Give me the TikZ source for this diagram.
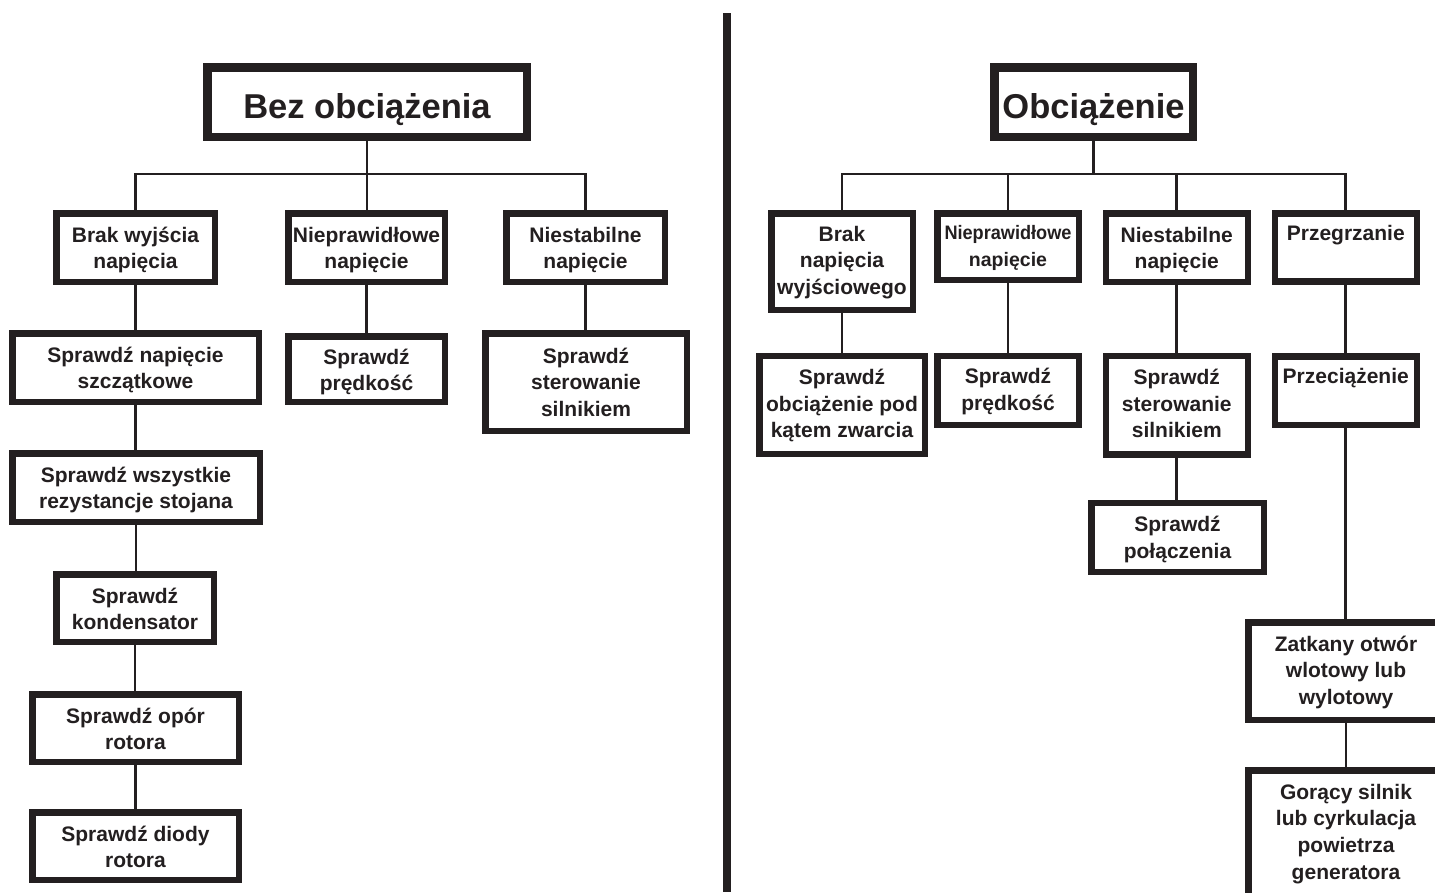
\documentclass[tikz,border=0pt]{standalone}
\usepackage{fontspec}
\setmainfont{Liberation Sans}
\usetikzlibrary{backgrounds}
\definecolor{ink}{HTML}{231F20}
\tikzset{
  bx/.style={draw=ink, line width=6.5pt, inner sep=0pt, outer sep=0pt, fill=white},
  tbx/.style={draw=ink, line width=8.5pt, inner sep=0pt, outer sep=0pt, fill=white},
  tx/.style={anchor=base, inner sep=0pt, outer sep=0pt, text=ink},
  conn/.style={draw=ink, line width=2.8pt},
}
\newcommand\cbox[7]{%
  \node[bx, minimum width={#4-#2-6.5}, minimum height={#5-#3-6.5}] (#1) at ({(#2+#4)/2},{(#3+#5)/2}) {};
  \node[tx] (#1-t) at ({(#2+#4)/2},{#3+#6}) {\parbox[t]{240pt}{\centering\fontsize{21}{26.7}\selectfont\bfseries #7}};
}
\newcommand\tbox[6]{%
  \node[tbx, minimum width={#4-#2-8.5}, minimum height={#5-#3-8.5}] (#1) at ({(#2+#4)/2},{(#3+#5)/2}) {};
  \node[tx] (#1-t) at ({(#2+#4)/2},118) {\fontsize{34.5}{40}\selectfont\bfseries #6};
}
\begin{document}
\begin{tikzpicture}[x=1pt,y=-1pt]
\clip (0,0) rectangle (1435,892);
\coordinate (H) at (0,174);

% ---------- left ----------
\tbox{T1}{203}{63}{531}{141}{Bez obciążenia}
\cbox{L1}{53}{210}{218}{285}{32}{Brak wyjścia\\napięcia}
\cbox{L2}{285}{210}{448}{285}{32}{Nieprawidłowe\\napięcie}
\cbox{L3}{503}{210}{668}{285}{32}{Niestabilne\\napięcie}
\cbox{L1a}{9}{330}{262}{405}{32}{Sprawdź napięcie\\szczątkowe}
\cbox{L1b}{9}{450}{263}{525}{32}{Sprawdź wszystkie\\rezystancje stojana}
\cbox{L1c}{53}{571}{217}{645}{32}{Sprawdź\\kondensator}
\cbox{L1d}{29}{691}{242}{765}{32}{Sprawdź opór\\rotora}
\cbox{L1e}{29}{809}{242}{883}{32}{Sprawdź diody\\rotora}
\cbox{L2a}{285}{333}{448}{405}{31}{Sprawdź\\prędkość}
\cbox{L3a}{482}{330}{690}{434}{33}{Sprawdź\\sterowanie\\silnikiem}

% ---------- right ----------
\tbox{T2}{990}{63}{1197}{141}{Obciążenie}
\cbox{R1}{768}{210}{916}{313}{31}{Brak\\napięcia\\wyjściowego}
\cbox{R2}{934}{210}{1082}{283}{29.5}{\fontsize{19.5}{27}\selectfont\scalebox{0.93}[1]{Nieprawidłowe}\\napięcie}
\cbox{R3}{1102.5}{210}{1251}{285}{32}{Niestabilne\\napięcie}
\cbox{R4}{1271.5}{210}{1420}{284.5}{30}{Przegrzanie}
\cbox{R1a}{756}{352.5}{928}{457}{32}{Sprawdź\\obciążenie pod\\kątem zwarcia}
\cbox{R2a}{934}{352.5}{1082}{428}{31}{Sprawdź\\prędkość}
\cbox{R3a}{1102.5}{352.5}{1251}{457.5}{32}{Sprawdź\\sterowanie\\silnikiem}
\cbox{R3b}{1088}{499.5}{1267}{575}{32}{Sprawdź\\połączenia}
\cbox{R4a}{1271.5}{353}{1420}{428}{30}{Przeciążenie}
\cbox{R4b}{1245}{619}{1447}{723}{32}{Zatkany otwór\\wlotowy lub\\wylotowy}
\cbox{R4c}{1245}{767}{1447}{910}{32}{Gorący silnik\\lub cyrkulacja\\powietrza\\generatora}

% ---------- background: white page, divider, connectors ----------
\begin{scope}[on background layer]
\fill[white] (0,0) rectangle (1435,892);
\fill[ink] (722.5,13) rectangle (731,892);
% left tree
\draw[conn] (T1.south) -- (T1.south |- L2.north);
\draw[conn] (L1.north) -- (L1.north |- H) -- (L3.north |- H) -- (L3.north);
\draw[conn] (L1.south) -- (L1.south |- L1a.north);
\draw[conn] (L1a.south) -- (L1a.south |- L1b.north);
\draw[conn] (L1b.south) -- (L1b.south |- L1c.north);
\draw[conn] (L1c.south) -- (L1c.south |- L1d.north);
\draw[conn] (L1d.south) -- (L1d.south |- L1e.north);
\draw[conn] (L2.south) -- (L2.south |- L2a.north);
\draw[conn] (L3.south) -- (L3.south |- L3a.north);
% right tree
\draw[conn] (T2.south) -- (T2.south |- H);
\draw[conn] (R1.north) -- (R1.north |- H) -- (R4.north |- H) -- (R4.north);
\draw[conn] (R2.north) -- (R2.north |- H);
\draw[conn] (R3.north) -- (R3.north |- H);
\draw[conn] (R1.south) -- (R1.south |- R1a.north);
\draw[conn] (R2.south) -- (R2.south |- R2a.north);
\draw[conn] (R3.south) -- (R3.south |- R3a.north);
\draw[conn] (R3a.south) -- (R3a.south |- R3b.north);
\draw[conn] (R4.south) -- (R4.south |- R4a.north);
\draw[conn] (R4a.south) -- (R4a.south |- R4b.north);
\draw[conn] (R4b.south) -- (R4b.south |- R4c.north);
\end{scope}
\end{tikzpicture}
\end{document}
